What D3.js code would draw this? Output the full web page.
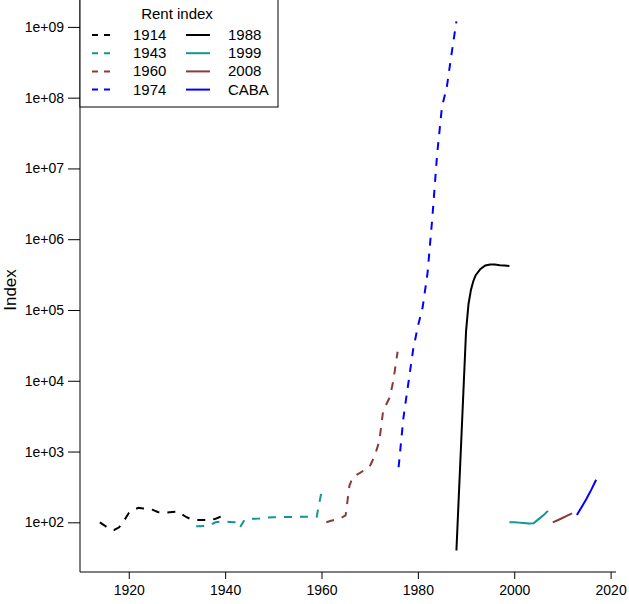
<!DOCTYPE html>
<html>
<head>
<meta charset="utf-8">
<script src="https://cdn.jsdelivr.net/npm/d3@7"></script>
<style>
  body { margin: 0; background: #fff; }
  svg { font-family: "Liberation Sans", Arial, sans-serif; }
</style>
</head>
<body>
<div id="chart"></div>
<script>
// rent index series
var s1914 = [[1914,100],[1915,90],[1916,80],[1917,78],[1918,85],[1919,105],[1920,135],[1921,150],[1922,160],[1923,157],[1924,155],[1925,150],[1926,140],[1927,138],[1928,138],[1929,140],[1930,142],[1931,130],[1932,118],[1933,110],[1934,108],[1935,108],[1936,108],[1937,108],[1938,112],[1939,120],[1940,125]];
var s1943 = [[1934,88],[1935,88],[1936,90],[1937,92],[1938,100],[1939,102],[1940,102],[1941,101],[1942,100],[1943,83],[1944,108],[1945,112],[1946,112],[1947,113],[1948,115],[1949,117],[1950,118],[1952,119],[1954,119],[1956,120],[1959,120],[1960,270]];
var s1960 = [[1961,100],[1962,105],[1963,110],[1964,115],[1965,125],[1965.8,330],[1966.5,435],[1968,500],[1970,615],[1971,850],[1972,1400],[1972.8,3800],[1974.2,5900],[1974.9,10000],[1975.8,25700]];
var s1974 = [[1976,600],[1977,3000],[1978,9000],[1979,27000],[1980,59000],[1981,110000],[1982,330000],[1983,2.0e6],[1984,1.6e7],[1985,7.4e7],[1986,1.4e8],[1987,4.2e8],[1988,1.2e9]];
var s1988 = [[1988,40],[1989,1400],[1990,50000],[1990.5,120000],[1991,190000],[1991.5,255000],[1992,310000],[1993,380000],[1994,425000],[1995,440000],[1996,440000],[1997,430000],[1998,425000],[1999,420000]];
var s1999 = [[1999,100],[2000,100],[2001,99],[2002,98],[2003,96],[2004,97],[2005,110],[2006,125],[2007,145]];
var s2008 = [[2008,100],[2009,107],[2010,115],[2011,124],[2012,134]];
var sCABA = [[2013,127],[2014,165],[2015,215],[2016,290],[2017,400]];

var seriesNames = ["1914","1943","1960","1974","1988","1999","2008","CABA"];
var seriesData = [s1914, s1943, s1960, s1974, s1988, s1999, s2008, sCABA];
var seriesColors = ["#000000","#12968f","#8b3a3a","#0000ff","#000000","#12968f","#8b3a3a","#0000ff"];
var seriesDashed = [true, true, true, true, false, false, false, false];

var xTicks = [1920, 1940, 1960, 1980, 2000, 2020];
var yTicks = [1e2, 1e3, 1e4, 1e5, 1e6, 1e7, 1e8, 1e9];
var yTickLabels = ["1e+02","1e+03","1e+04","1e+05","1e+06","1e+07","1e+08","1e+09"];

var width = 629, height = 604;
var svg = d3.select("#chart").append("svg")
    .attr("width", width)
    .attr("height", height);

// plot region (R style, 4% padding on data range)
var x = d3.scaleLinear().domain([1909.88, 2021.12]).range([80, 616]);
var y = d3.scaleLog().domain([Math.pow(10, 1.298), Math.pow(10, 9.38)]).range([572, 0]);

var line = d3.line()
    .x(function(d) { return x(d[0]); })
    .y(function(d) { return y(d[1]); });

seriesData.forEach(function(s, i) {
    svg.append("path")
        .datum(s)
        .attr("d", line)
        .attr("fill", "none")
        .attr("stroke", seriesColors[i])
        .attr("stroke-width", 2)
        .attr("stroke-dasharray", seriesDashed[i] ? "8,8" : null);
});

// axes
var xAxis = d3.axisBottom(x).tickValues(xTicks).tickSize(7).tickPadding(6).tickFormat(d3.format("d"));
var gx = svg.append("g").attr("transform", "translate(0,572)").call(xAxis);
gx.select(".domain").remove();
gx.selectAll("text").attr("font-size", 14).attr("fill", "#000");

var yAxis = d3.axisLeft(y).tickValues(yTicks).tickSize(12).tickPadding(4)
    .tickFormat(function(d, i) { return yTickLabels[i]; });
var gy = svg.append("g").attr("transform", "translate(80,0)").call(yAxis);
gy.select(".domain").remove();
gy.selectAll("text").attr("font-size", 14).attr("fill", "#000");

// L shaped box
svg.append("path")
    .attr("d", "M80,0 L80,572 L616,572")
    .attr("fill", "none")
    .attr("stroke", "#000")
    .attr("stroke-width", 1);

svg.append("text")
    .attr("transform", "translate(16,290) rotate(-90)")
    .attr("text-anchor", "middle")
    .attr("font-size", 17)
    .text("Index");

// legend
var legend = svg.append("g");
legend.append("rect")
    .attr("x", 80).attr("y", -1)
    .attr("width", 198).attr("height", 108)
    .attr("fill", "#fff")
    .attr("stroke", "#000");
legend.append("text")
    .attr("x", 177).attr("y", 19)
    .attr("text-anchor", "middle")
    .attr("font-size", 15)
    .text("Rent index");

seriesNames.forEach(function(name, i) {
    var col = Math.floor(i / 4), row = i % 4;
    var lx = col === 0 ? 92 : 186;
    var ly = 35 + row * 18.2;
    legend.append("line")
        .attr("x1", lx).attr("x2", lx + 24)
        .attr("y1", ly).attr("y2", ly)
        .attr("stroke", seriesColors[i])
        .attr("stroke-width", 2)
        .attr("stroke-dasharray", seriesDashed[i] ? "6,6" : null);
    legend.append("text")
        .attr("x", col === 0 ? 133 : 228)
        .attr("y", ly + 5)
        .attr("font-size", 15)
        .text(name);
});
</script>
</body>
</html>
